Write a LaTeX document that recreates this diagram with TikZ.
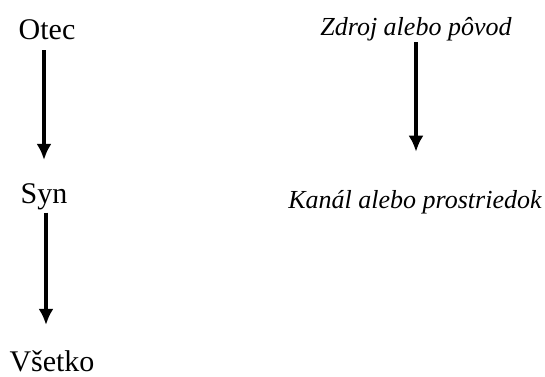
\documentclass[tikz,border=0pt]{standalone}
\usepackage{fontspec}
\setmainfont{Liberation Serif}
\usepackage{tikz}
\usetikzlibrary{arrows.meta}
\tikzset{>={Latex[length=16pt,width=15pt]}}
\tikzset{word/.style={inner sep=0pt,anchor=base,font=\fontsize{30}{34}\selectfont},
         slant/.style={inner sep=0pt,anchor=base,font=\fontsize{26}{30}\selectfont\itshape},
         flow/.style={->,line width=4pt}}

\begin{document}
\begin{tikzpicture}[x=1pt,y=-1pt]
       \useasboundingbox (0,0) rectangle (545,376);
       \node[word] (otec) at (47,39) {Otec};
       \node[word] (syn) at (44,203) {Syn};
       \node[word] (vsetko) at (52,371) {Všetko};
       \node[slant] (zdroj) at (416,35) {Zdroj alebo pôvod};
       \node[slant] (kanal) at (415,208) {Kanál alebo prostriedok};
       \draw[flow,shorten <=11pt,shorten >=23pt] ([xshift=-3pt]otec.south) -- ([xshift=0pt]syn.north);
       \draw[flow,shorten <=3pt,shorten >=25pt] ([xshift=2pt]syn.south) -- ([xshift=-6pt]vsetko.north);
       \draw[flow,shorten <=1.5pt,shorten >=38pt] (zdroj.south) -- ([xshift=1pt]kanal.north);
\end{tikzpicture}
\end{document}
